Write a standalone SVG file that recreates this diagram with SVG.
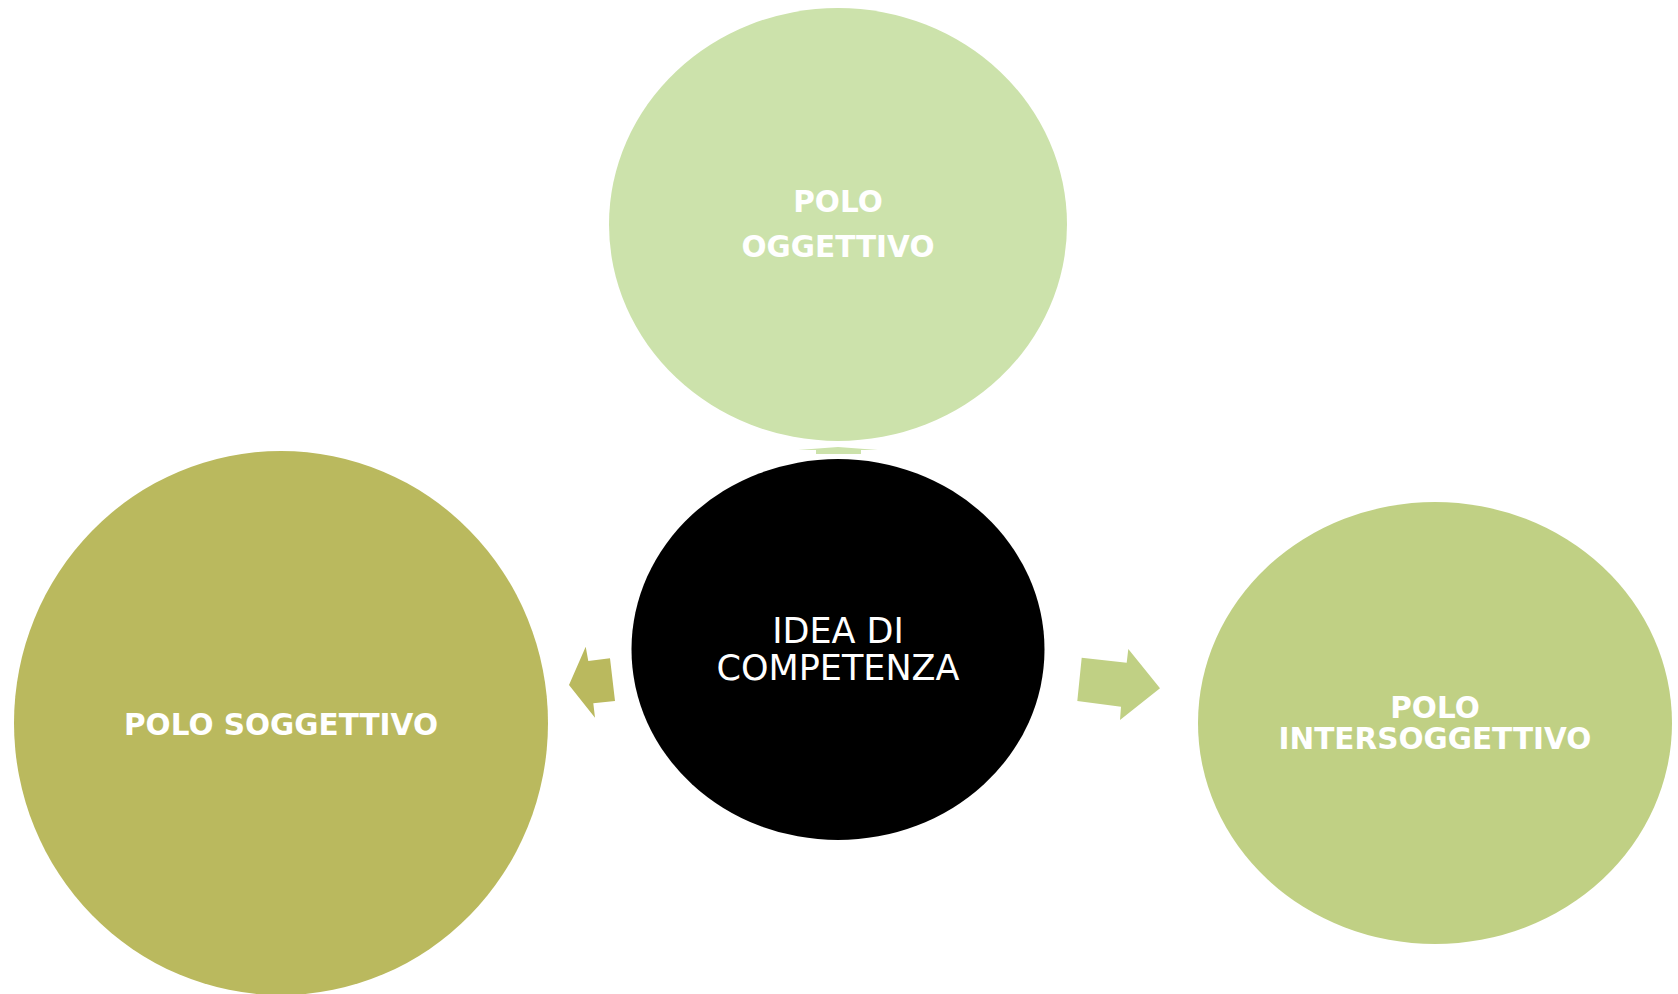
<svg xmlns="http://www.w3.org/2000/svg" width="1678" height="994" viewBox="0 0 1678 994">
<style>
.lbl{font-family:"DejaVu Sans","Noto Sans",sans-serif;fill:#FFFFFF;text-anchor:middle}
.b{font-weight:bold;font-size:29.5px}
.r{font-size:35px}
</style>
<rect width="1678" height="994" fill="#FFFFFF"/>
<g id="connectors">
<polygon points="798,450 838,447 878,450 861,450 861,454 816,454 816,450" fill="#CCE2AB"/>
<polygon points="569,685 585.7,646.7 588.3,661 610,658.3 615,701 593.3,703.3 595,717.7" fill="#BAB95E"/>
<polygon points="1081.7,657.7 1126.7,662.7 1128.3,649 1160,688.3 1120,720 1121,706.7 1077.3,701" fill="#C0D084"/>
</g>
<g id="node-oggettivo">
<ellipse cx="838" cy="224.5" rx="229" ry="216.5" fill="#CCE2AB"/>
<text class="lbl b" x="838" y="212">POLO</text>
<text class="lbl b" x="838" y="257">OGGETTIVO</text>
</g>
<g id="node-competenza">
<ellipse cx="838" cy="649.5" rx="206.5" ry="190.5" fill="#000000"/>
<text class="lbl r" x="838" y="643">IDEA DI</text>
<text class="lbl r" x="838" y="679.5">COMPETENZA</text>
</g>
<g id="node-soggettivo">
<ellipse cx="281" cy="723" rx="267" ry="272" fill="#BAB95E"/>
<text class="lbl b" x="281" y="735">POLO SOGGETTIVO</text>
</g>
<g id="node-intersoggettivo">
<ellipse cx="1435" cy="723" rx="237" ry="221" fill="#C0D084"/>
<text class="lbl b" x="1435" y="717.5">POLO</text>
<text class="lbl b" x="1435" y="749.3">INTERSOGGETTIVO</text>
</g>
</svg>
